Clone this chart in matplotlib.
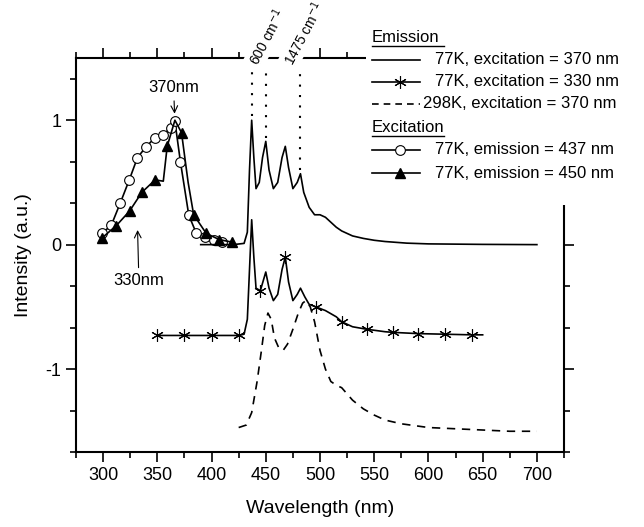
import matplotlib
matplotlib.use("Agg")
import matplotlib.pyplot as plt
from matplotlib.lines import Line2D
from matplotlib.patches import Rectangle
from matplotlib.ticker import MultipleLocator

plt.rcParams['font.family'] = ['Liberation Sans', 'DejaVu Sans']

# excitation, 77K, emission = 437 nm (open circles)
exc437_x = [299, 307.6, 315.9, 324.1, 331.7, 339.6, 347.9, 355.5, 362.5, 366.2,
            371.3, 379, 386, 394.2, 401.8, 409.5]
exc437_y = [0.09, 0.157, 0.336, 0.52, 0.70, 0.786, 0.86, 0.885, 0.94, 0.99,
            0.665, 0.237, 0.09, 0.063, 0.036, 0.02]

# excitation, 77K, emission = 450 nm (filled triangles)
exc450_x = [299, 312.2, 324.4, 335.7, 347.9, 355.5, 359.1, 366.2, 372.3, 378.4,
            383.5, 395.1, 407.3, 418.9]
exc450_y = [0.054, 0.153, 0.27, 0.42, 0.52, 0.51, 0.79, 1.0, 0.90, 0.5,
            0.24, 0.09, 0.04, 0.02]
exc450_mark = [0, 1, 2, 3, 4, 6, 8, 10, 11, 12, 13]

# emission, 77K, excitation = 370 nm (offset 0)
em370_x = [390, 420, 430, 433, 435, 437, 439, 441, 444, 447, 450, 453, 457,
           461, 465, 468, 471, 475, 479, 482, 485, 490, 495, 500, 505, 510,
           515, 520, 530, 540, 550, 560, 580, 600, 650, 700]
em370_y = [0.0, 0.0, 0.01, 0.1, 0.6, 1.0, 0.7, 0.45, 0.5, 0.7, 0.83, 0.6, 0.45,
           0.5, 0.7, 0.79, 0.62, 0.45, 0.5, 0.57, 0.42, 0.3, 0.24, 0.24, 0.22, 0.18,
           0.14, 0.11, 0.07, 0.05, 0.035, 0.025, 0.012, 0.006, 0.002, 0.0]

# emission, 77K, excitation = 330 nm (asterisks, offset)
em330_x = [350, 375, 400, 425, 430, 433, 435, 437, 439, 441, 445, 448, 450, 453,
           457, 461, 465, 468, 471, 475, 479, 482, 486, 490, 496, 505, 515, 520,
           530, 543, 560, 567, 590, 615, 640, 650]
em330_y = [-0.73, -0.73, -0.73, -0.73, -0.72, -0.6, -0.2, 0.2, -0.1, -0.35, -0.37,
           -0.28, -0.22, -0.35, -0.45, -0.4, -0.2, -0.1, -0.3, -0.45, -0.4, -0.35,
           -0.42, -0.48, -0.5, -0.53, -0.58, -0.62, -0.66, -0.68, -0.7, -0.705,
           -0.715, -0.72, -0.725, -0.725]
em330_mark = [0, 1, 2, 3, 10, 17, 24, 27, 29, 31, 32, 33, 34]

# emission, 298K, excitation = 370 nm (dashed)
em298_x = [425, 432, 437, 442, 446, 449, 452, 455, 458, 462, 466, 470, 475, 480,
           484, 487, 491, 495, 500, 505, 510, 515, 520, 525, 530, 540, 550, 560,
           575, 600, 625, 650, 675, 700]
em298_y = [-1.47, -1.45, -1.35, -1.1, -0.85, -0.65, -0.55, -0.6, -0.75, -0.83,
           -0.85, -0.8, -0.68, -0.55, -0.47, -0.45, -0.5, -0.62, -0.85, -1.0, -1.1,
           -1.13, -1.15, -1.2, -1.25, -1.32, -1.37, -1.41, -1.44, -1.47, -1.48,
           -1.49, -1.5, -1.5]

# vibronic peaks marked by dotted lines
peak_x = [437, 450, 482]
peak_top = [1.0, 0.83, 0.57]
gap_labels = ['600 cm$^{-1}$', '1475 cm$^{-1}$']
gap_label_x = [446, 478]

fig = plt.figure(figsize=(6.44, 5.27), dpi=100)
ax = fig.add_axes([76 / 644, 1 - 452 / 527, 488 / 644, 394 / 527])

ax.plot(exc437_x, exc437_y, color='black', lw=1.2, marker='o', ms=7,
        mfc='white', mec='black', mew=0.8)
ax.plot(exc450_x, exc450_y, color='black', lw=1.2, marker='^', ms=7,
        markevery=exc450_mark)
ax.plot(em370_x, em370_y, color='black', lw=1.2)
ax.plot(em330_x, em330_y, color='black', lw=1.2, marker=(6, 2, 0), ms=9,
        mew=0.8, markevery=em330_mark)
ax.plot(em298_x, em298_y, color='black', lw=1.2, ls=(0, (5, 4)))

for px, pt in zip(peak_x, peak_top):
    ax.plot([px, px], [pt + 0.03, 1.4], color='black', lw=1.5, ls=(0, (1, 4)))

ax.annotate('370nm', xy=(366, 1.03), xytext=(365, 1.26), ha='center', va='center',
            fontsize=12, arrowprops=dict(arrowstyle='->', lw=0.8, color='black'))
ax.annotate('330nm', xy=(331.7, 0.14), xytext=(333, -0.29), ha='center', va='center',
            fontsize=12, arrowprops=dict(arrowstyle='->', lw=0.8, color='black'))

for lab, lx in zip(gap_labels, gap_label_x):
    ax.text(lx, 1.42, lab, rotation=62, fontsize=10, ha='left', va='bottom',
            rotation_mode='anchor', bbox=dict(fc='white', ec='none', pad=1),
            zorder=5, clip_on=False)

ax.set_xlim(275, 725)
ax.set_ylim(-5 / 3, 1.5)
ax.xaxis.set_major_locator(MultipleLocator(50))
ax.xaxis.set_minor_locator(MultipleLocator(25))
ax.yaxis.set_major_locator(MultipleLocator(1))
ax.yaxis.set_minor_locator(MultipleLocator(1 / 3))
ax.tick_params(which='both', direction='in', top=True, right=True, width=1.2,
               labelsize=13)
ax.tick_params(which='major', length=7)
ax.tick_params(which='minor', length=4)
ax.tick_params(axis='x', which='both', direction='out', bottom=True)
ax.tick_params(axis='y', which='both', direction='out', left=True)
for s in ax.spines.values():
    s.set_linewidth(1.5)
ax.set_yticks([-1, 0, 1])
ax.set_yticklabels(['-1', '0', '1'])
ax.set_xlabel('Wavelength (nm)', fontsize=14, labelpad=12)
ax.set_ylabel('Intensity (a.u.)', fontsize=14, labelpad=10)


# hand-made legend in figure pixels
def fp(x, y):
    return x / 644, 1 - y / 527


tr = fig.transFigure
fig.patches.append(Rectangle(fp(366, 205), 280 / 644, 185 / 527, transform=tr,
                             fc='white', ec='none', zorder=3))
items = [
    ('Emission', None, 37),
    ('77K, excitation = 370 nm', dict(), 60),
    ('77K, excitation = 330 nm', dict(marker=(6, 2, 0), ms=9, mew=0.8), 82),
    ('298K, excitation = 370 nm', dict(ls=(0, (4, 3))), 104),
    ('Excitation', None, 127),
    ('77K, emission = 437 nm', dict(marker='o', ms=7, mfc='white', mew=0.8), 150),
    ('77K, emission = 450 nm', dict(marker='^', ms=7), 173),
]
for label, style, y in items:
    if style is None:
        fig.text(*fp(372, y), label, fontsize=12, ha='left', va='center', zorder=4)
        fig.lines.append(Line2D([372 / 644, 444 / 644], [1 - (y + 9) / 527] * 2,
                                transform=tr, color='black', lw=1, zorder=4))
    else:
        fig.lines.append(Line2D([372 / 644, 400 / 644, 420 / 644], [1 - y / 527] * 3,
                                transform=tr, color='black', lw=1.2, zorder=4,
                                markevery=[1], **style))
        fig.text(*fp(435 if not label.startswith('298') else 423, y), label,
                 fontsize=12, ha='left', va='center', zorder=4)

fig.savefig('out.png', dpi=100)
